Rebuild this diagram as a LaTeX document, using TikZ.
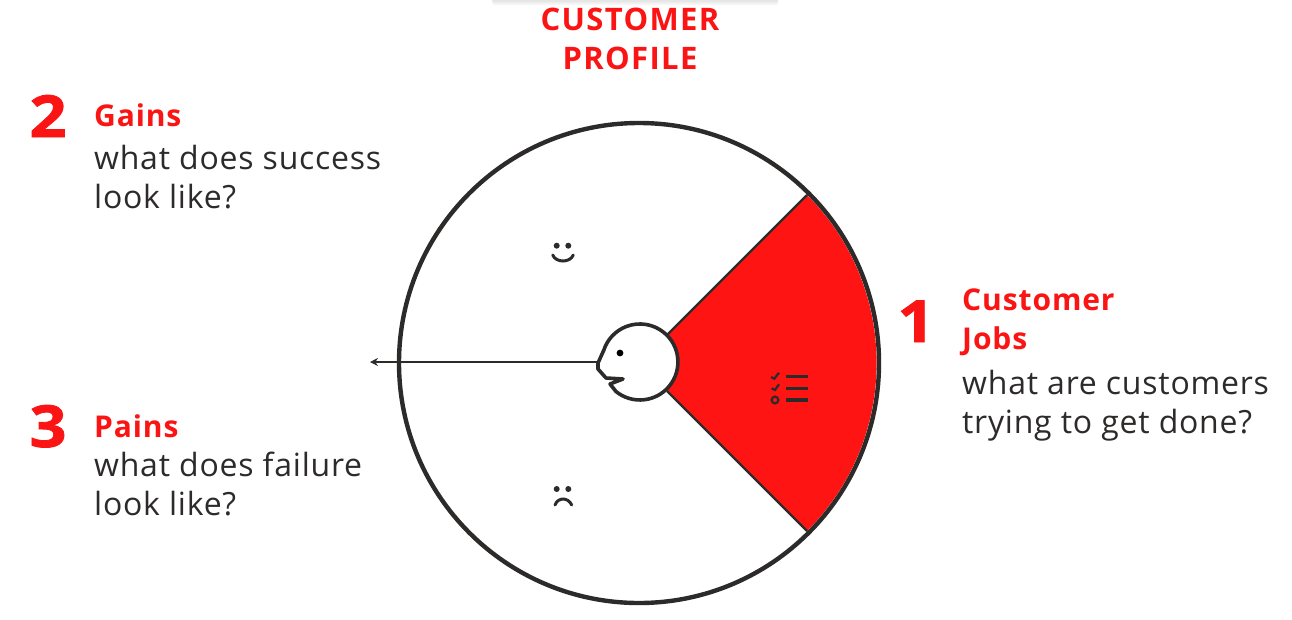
\documentclass[tikz,border=0pt]{standalone}
\usepackage{fontspec}
\setmainfont{Open Sans}
\definecolor{vpred}{RGB}{250,20,20}
\definecolor{vpink}{RGB}{255,20,20}
\definecolor{vpdark}{RGB}{45,42,42}
\usetikzlibrary{arrows.meta}
\tikzset{
 heading/.style={anchor=base west,text=vpred,font=\fontsize{30}{36}\selectfont\bfseries\addfontfeature{LetterSpace=3},inner sep=0pt},
 toptitle/.style={anchor=base,text=vpred,font=\fontsize{31}{36}\selectfont\bfseries\addfontfeature{LetterSpace=4.4},inner sep=0pt},
 bodytext/.style={anchor=base west,text=vpdark,font=\fontsize{32}{38}\selectfont\addfontfeature{LetterSpace=2.4},inner sep=0pt},
 bignum/.style={anchor=base,text=vpred,font=\fontsize{58}{60}\selectfont\bfseries\addfontfeature{FakeStretch=1.12,FakeBold=1.4},inner sep=0pt},
 outline/.style={draw=vpdark,line width=4.4pt},
 faceline/.style={draw=vpdark,line width=3.6pt,line join=round},
 iconline/.style={draw=vpdark,line width=3.2pt},
 smile/.style={draw=vpdark,line width=3pt,line cap=round},
}
\begin{document}
\begin{tikzpicture}[x=1pt,y=-1pt]
\useasboundingbox (0,0) rectangle (1292,619);
% faint band at the top edge
\foreach \o/\t in {0.03/5,0.03/3.5,0.04/2}{
 \fill[black,opacity=\o,rounded corners=1.5pt] (492,-2) rectangle (778,\t);
}
% outer disc and wedge
\coordinate (c) at (639,363);
\coordinate (wedgeTop) at (807,195);
\coordinate (wedgeBot) at (807,531);
\coordinate (wedgeInTop) at (667,335);
\coordinate (wedgeInBot) at (667,391);
\fill[vpink] (wedgeInTop) -- (wedgeTop) arc[start angle=-45,end angle=45,radius=237.6] -- (wedgeInBot) -- cycle;
\draw[draw=vpdark,line width=2.2pt] (wedgeInTop) -- (wedgeTop);
\draw[draw=vpdark,line width=2.2pt] (wedgeInBot) -- (wedgeBot);
\node[outline,circle,minimum size=480pt,inner sep=0pt] (disc) at (c) {};
% arrow from head
\coordinate (arrowEnd) at (370,362);
\coordinate (nose) at (599,362);
\draw[draw=vpdark,line width=1.8pt,-{Stealth[length=8pt,width=8pt]}] (nose) -- (arrowEnd);
% head
\draw[faceline,fill=white]
 (616,391.5) arc[start angle=129,delta angle=-291,radius=38]
 -- (598,363) -- (598,369) -- (606,378) -- (623,379) -- (610,384) -- cycle;
\fill[black] (620,353) circle[radius=3.4];
% happy face
\fill[vpdark] (556.7,245.7) circle[radius=3] (568.3,245.7) circle[radius=3];
\draw[smile] (552.7,255) .. controls (556,263) and (570,263) .. (573.3,255);
% sad face
\fill[vpdark] (556.7,489) circle[radius=3] (568.3,489) circle[radius=3];
\draw[smile] (555,505) .. controls (558,497) and (568,497) .. (571.7,505);
% checklist icon
\draw[iconline] (786,376.7) -- (808,376.7) (786,388.3) -- (808,388.3) (786,400) -- (808,400);
\draw[iconline,line width=2.2pt] (771,377) -- (774.3,378.7) -- (779,372.7);
\draw[iconline,line width=2.2pt] (771.5,388.3) -- (775,390) -- (779,384.3);
\draw[iconline,line width=2.2pt] (775,400) circle[radius=3.4];
% texts
\node[toptitle] (title1) at (630,30) {CUSTOMER};
\node[toptitle] (title2) at (630,69) {PROFILE};
\node[bignum] (n2) at (48,137) {2};
\node[heading] (gains) at (94,126) {Gains};
\node[bodytext] (g1) at (94,169) {what does success};
\node[bodytext] (g2) at (94,208) {look like?};
\node[bignum] (n3) at (48,447) {3};
\node[heading] (pains) at (94,437) {Pains};
\node[bodytext] (p1) at (94,476) {what does failure};
\node[bodytext] (p2) at (94,515) {look like?};
\node[bignum] (n1) at (916,342) {1};
\node[heading] (cj1) at (962,310) {Customer};
\node[heading] (cj2) at (962,349) {Jobs};
\node[bodytext] (j1) at (962,394) {what are customers};
\node[bodytext] (j2) at (962,433) {trying to get done?};
\end{tikzpicture}
\end{document}
